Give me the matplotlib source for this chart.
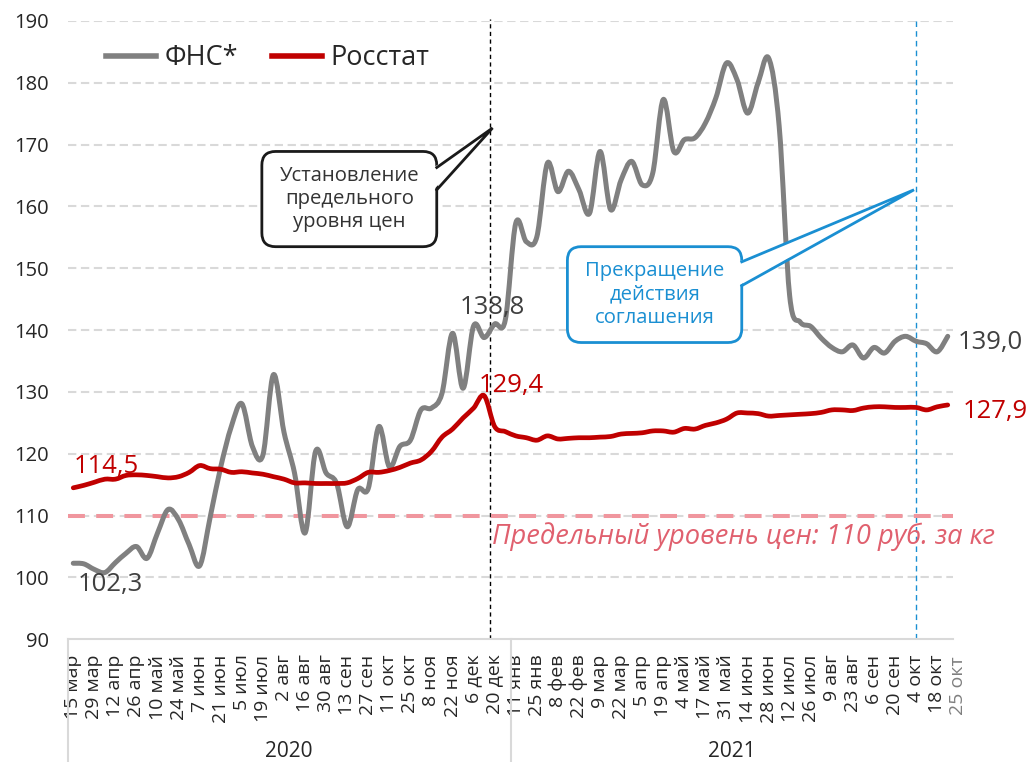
import matplotlib
matplotlib.use("Agg")
import matplotlib.pyplot as plt
import numpy as np
from matplotlib.path import Path
from matplotlib.patches import PathPatch, FancyBboxPatch, Polygon
from matplotlib.lines import Line2D
import matplotlib.transforms as mtransforms

plt.rcParams['font.family'] = ['Open Sans', 'DejaVu Sans']

# ---------------- data ----------------
tick_labels = ["15 мар", "29 мар", "12 апр", "26 апр", "10 май", "24 май", "7 июн", "21 июн",
               "5 июл", "19 июл", "2 авг", "16 авг", "30 авг", "13 сен", "27 сен", "11 окт",
               "25 окт", "8 ноя", "22 ноя", "6 дек", "20 дек", "11 янв", "25 янв", "8 фев",
               "22 фев", "9 мар", "22 мар", "5 апр", "19 апр", "4 май", "17 май", "31 май",
               "14 июн", "28 июн", "12 июл", "26 июл", "9 авг", "23 авг", "6 сен", "20 сен",
               "4 окт", "18 окт"]
last_label = "25 окт"
years = ["2020", "2021"]
n_2020 = 42  # number of weekly points in 2020

fns = [102.3, 102.2, 101.3, 100.8, 102.4, 103.9, 105.0, 103.1, 107.2, 111.0,
       109.3, 105.3, 101.9, 109.8, 117.9, 124.4, 128.1, 121.2, 119.8, 132.8,
       123.5, 116.9, 107.2, 120.4, 116.9, 115.2, 108.2, 114.2, 114.4, 124.4,
       117.9, 121.2, 122.2, 127.1, 127.4, 129.8, 139.5, 130.6, 140.7, 138.8,
       141.0, 141.6, 157.3, 154.3, 155.1, 167.0, 162.4, 165.7, 162.7, 158.9,
       168.9, 159.5, 164.3, 167.3, 163.5, 165.4, 177.3, 168.9, 170.8, 171.1,
       173.5, 177.6, 183.2, 180.5, 175.1, 180.0, 184.0, 173.0, 145.5, 141.3,
       140.6, 138.7, 137.2, 136.5, 137.6, 135.5, 137.2, 136.3, 138.2, 139.0,
       138.2, 137.8, 136.5, 139.0]
rosstat = [114.5, 114.9, 115.4, 115.9, 115.9, 116.5, 116.6, 116.5, 116.3, 116.1,
           116.3, 117.0, 118.1, 117.6, 117.5, 117.0, 117.1, 116.9, 116.7, 116.3,
           115.9, 115.3, 115.3, 115.2, 115.2, 115.2, 115.3, 116.0, 117.0, 117.0,
           117.3, 117.8, 118.5, 119.0, 120.4, 122.7, 124.0, 125.8, 127.4, 129.4,
           124.4, 123.6, 122.9, 122.6, 122.2, 122.9, 122.4, 122.5, 122.6, 122.6,
           122.7, 122.8, 123.2, 123.3, 123.4, 123.7, 123.7, 123.5, 124.1, 124.0,
           124.6, 125.0, 125.6, 126.6, 126.6, 126.5, 126.1, 126.2, 126.3, 126.4,
           126.5, 126.7, 127.1, 127.1, 127.0, 127.4, 127.6, 127.6, 127.5, 127.5,
           127.5, 127.1, 127.6, 127.9]
price_cap = 110
cap_event_x = 39.55   # установление предельного уровня цен
end_event_x = 80      # прекращение действия соглашения

GRAY = "#808080"
RED = "#c00000"
PINK = "#f0969e"
PINK_TXT = "#e0606e"
BLUE = "#1a8fd2"
DARK = "#262626"


def smooth_path(x, y):
    x = np.asarray(x, float)
    y = np.asarray(y, float)
    pts = np.column_stack([x, y])
    n = len(pts)
    verts = [pts[0]]
    codes = [Path.MOVETO]
    for i in range(n - 1):
        p0 = pts[i - 1] if i > 0 else pts[i]
        p1 = pts[i]
        p2 = pts[i + 1]
        p3 = pts[i + 2] if i + 2 < n else pts[i + 1]
        c1 = p1 + (p2 - p0) / 6.0
        c2 = p2 - (p3 - p1) / 6.0
        verts += [c1, c2, p2]
        codes += [Path.CURVE4] * 3
    return Path(verts, codes)


fig = plt.figure(figsize=(10.27, 7.62), dpi=100)
ax = fig.add_axes([68 / 1027, 1 - 639.3 / 762, (953 - 68) / 1027, (639.3 - 21) / 762])

n = len(fns)
xs = np.arange(n)
ax.set_xlim(-0.5, n - 0.5)
ax.set_ylim(90, 190)

# grid
ax.set_yticks(np.arange(90, 191, 10))
for v in np.arange(100, 191, 10):
    ax.axhline(v, color="#d9d9d9", lw=1.5, dashes=(4, 2.2), zorder=1)

# lines
ax.add_patch(PathPatch(smooth_path(xs, fns), fill=False, edgecolor=GRAY, lw=3.6,
                       capstyle='round', joinstyle='round', zorder=4))
ax.add_patch(PathPatch(smooth_path(xs, rosstat), fill=False, edgecolor=RED, lw=3.4,
                       capstyle='round', joinstyle='round', zorder=4))

# price cap
ax.axhline(price_cap, color=PINK, lw=2.9, dashes=(4.2, 2.8), zorder=3)
ax.text(39.7, 106.6, "Предельный уровень цен: 110 руб. за кг", color=PINK_TXT,
        fontsize=19.6, style='italic', ha='left', va='center', zorder=6, clip_on=False)

# event lines
ax.axvline(cap_event_x, color="#000000", lw=1, dashes=(3, 2.5), zorder=2, ymax=1.003, clip_on=False)
ax.axvline(end_event_x, color=BLUE, lw=1, dashes=(4, 3), zorder=2, ymax=1.003, clip_on=False)

# spines / ticks
for s in ["left", "right", "top"]:
    ax.spines[s].set_visible(False)
ax.spines["bottom"].set_color("#d9d9d9")
ax.spines["bottom"].set_linewidth(1.5)
ax.tick_params(axis='y', length=0, pad=14, labelsize=14.5, labelcolor=DARK)
ax.set_xticks(np.arange(0, n - 1, 2))
ax.set_xticklabels(tick_labels, rotation=90, fontsize=14, color=DARK)
ax.tick_params(axis='x', length=0, pad=11)

trans = mtransforms.blended_transform_factory(ax.transData, ax.transAxes)
ax.text(n - 1 + 1.0, -0.027, last_label, rotation=90, ha='center', va='top',
        fontsize=14, color="#7f7f7f", transform=trans, clip_on=False)

# year separators
for xb in [-0.5, n_2020 - 0.5]:
    ax.add_line(Line2D([xb, xb], [0, -0.2], transform=trans, color="#d9d9d9", lw=1.5, clip_on=False))
ax.text((-0.5 + n_2020 - 0.5) / 2, -0.182, years[0], transform=trans, ha='center', va='center',
        fontsize=15, color=DARK)
ax.text((n_2020 - 0.5 + n - 0.5) / 2, -0.182, years[1], transform=trans, ha='center', va='center',
        fontsize=15, color=DARK)

# data labels
lbl = dict(fontsize=18.5, clip_on=False, zorder=6, textcoords='offset points', va='center')
ax.annotate("102,3", xy=(0, fns[0]), xytext=(2.9, -15.5), ha='left', color="#404040", **lbl)
ax.annotate("114,5", xy=(0, rosstat[0]), xytext=(0, 15), ha='left', color=RED, **lbl)
ax.annotate("138,8", xy=(39, fns[39]), xytext=(6.2, 21.9), ha='center', color="#404040", **lbl)
ax.annotate("129,4", xy=(39, rosstat[39]), xytext=(-3.9, 7.6), ha='left', color=RED, **lbl)
ax.annotate("139,0", xy=(n - 1, fns[-1]), xytext=(7.3, -4.2), ha='left', color="#404040", **lbl)
ax.annotate("127,9", xy=(n - 1, rosstat[-1]), xytext=(10.8, -4.5), ha='left', color=RED, **lbl)

# callouts
def callout(x0, x1, y0, y1, base_y0, base_y1, tip, color, text, tcolor):
    asp = (10.54 / 6.18)
    box = FancyBboxPatch((x0, y0), x1 - x0, y1 - y0,
                         boxstyle="round,pad=0,rounding_size=1.3", mutation_aspect=asp,
                         facecolor="white", edgecolor=color, lw=2.0, zorder=7)
    ax.add_patch(box)
    wedge = Polygon([(x1 - 0.3, base_y0), tip, (x1 - 0.3, base_y1)], closed=True,
                    facecolor="white", edgecolor="none", zorder=8)
    ax.add_patch(wedge)
    ax.add_line(Line2D([x1, tip[0], x1], [base_y0, tip[1], base_y1], color=color, lw=2.0,
                       zorder=9, solid_joinstyle='miter'))
    ax.text((x0 + x1) / 2, (y0 + y1) / 2, text, ha='center', va='center', color=tcolor,
            fontsize=14.6, linespacing=1.22, zorder=10)


callout(17.9, 34.5, 153.5, 168.9, 166.3, 162.7, (39.8, 172.7), "#1a1a1a",
        "Установление\nпредельного\nуровня цен", "#333333")
callout(46.9, 63.45, 138.0, 153.5, 151.05, 147.2, (79.8, 162.7), BLUE,
        "Прекращение\nдействия\nсоглашения", BLUE)

# legend
handles = [Line2D([], [], color=GRAY, lw=4), Line2D([], [], color=RED, lw=4)]
ax.legend(handles, ["ФНС*", "Росстат"], loc='upper left', bbox_to_anchor=(0.043, 0.962),
          ncol=2, frameon=False, fontsize=19.5, handlelength=1.85, handletextpad=0.3,
          columnspacing=1.25, borderpad=0, borderaxespad=0, labelcolor=DARK)

fig.savefig("out.png", dpi=100)
